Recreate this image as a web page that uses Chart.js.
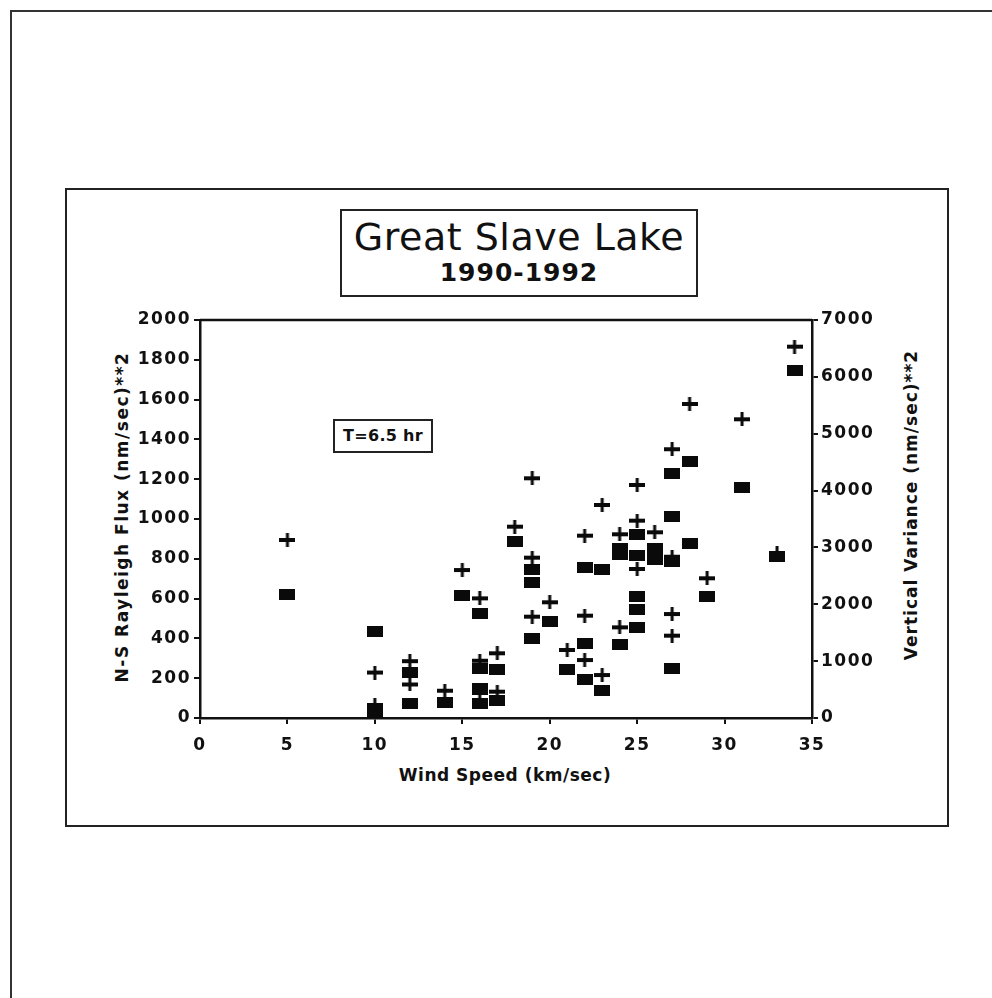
<!DOCTYPE html>
<html>
<head>
<meta charset="utf-8">
<script src="https://cdn.jsdelivr.net/npm/chart.js@4.4.1/dist/chart.umd.min.js"></script>
<style>
  html, body { margin: 0; padding: 0; background: #fff; }
  #page { position: relative; width: 992px; height: 998px; overflow: hidden; background: #fff; font-family: "DejaVu Sans", "Liberation Sans", sans-serif; color: #111; }
  #c { position: absolute; left: 0; top: 0; }
  .line { position: absolute; background: #333; }
  .box { position: absolute; box-sizing: border-box; border: 2px solid #222; }
  .txt { position: absolute; white-space: nowrap; }
  .rot { transform: translate(-50%, -50%) rotate(-90deg); }
</style>
</head>
<body>
<div id="page">
  <div class="line" style="left:10px; top:10px; width:982px; height:2px;"></div>
  <div class="line" style="left:10px; top:10px; width:2px; height:988px;"></div>
  <div class="box" style="left:65px; top:188px; width:884px; height:639px;"></div>
  <div class="box" style="left:340px; top:209px; width:358px; height:88px;"></div>
  <div class="txt" style="left:340px; width:358px; top:216px; line-height:42px; text-align:center; font-size:38px; letter-spacing:0.5px;">Great Slave Lake</div>
  <div class="txt" style="left:340px; width:358px; top:259px; line-height:28px; text-align:center; font-size:25px; font-weight:bold; letter-spacing:1px;">1990-1992</div>
  <div class="box" style="left:333px; top:419px; width:100px; height:34px;"></div>
  <div class="txt" style="left:333px; width:100px; top:425px; line-height:22px; text-align:center; font-size:16px; font-weight:bold; letter-spacing:0.3px;">T=6.5 hr</div>
  <div class="txt" style="left:505px; top:775px; transform:translate(-50%,-50%); font-size:17px; font-weight:bold; letter-spacing:0.5px;">Wind Speed (km/sec)</div>
  <div class="txt rot" style="left:122px; top:517px; font-size:17px; font-weight:bold; letter-spacing:1.5px;">N-S Rayleigh Flux (nm/sec)**2</div>
  <div class="txt rot" style="left:911px; top:505px; font-size:17px; font-weight:bold; letter-spacing:1px;">Vertical Variance (nm/sec)**2</div>
  <canvas id="c" width="992" height="998"></canvas>
</div>
<script>
// ---- data ----
// filled rectangles: N-S Rayleigh Flux (left axis)
const fluxWind = [5, 10, 10, 10, 12, 12, 14, 15, 16, 16, 16, 16, 17, 17, 18, 19, 19, 19, 20, 21, 22, 22, 22, 23, 23, 24, 24, 24, 25, 25, 25, 25, 25, 26, 26, 27, 27, 27, 27, 28, 28, 29, 31, 33, 34];
const fluxValues = [623, 434, 35, 10, 230, 74, 80, 618, 526, 250, 150, 74, 246, 90, 886, 744, 680, 400, 484, 246, 757, 375, 194, 744, 136, 850, 820, 367, 923, 819, 613, 543, 454, 854, 794, 1230, 1015, 785, 250, 1288, 878, 613, 1157, 814, 1745];
// crosses: Vertical Variance (right axis)
const varWind = [5, 10, 10, 12, 12, 14, 15, 16, 16, 16, 17, 17, 18, 19, 19, 19, 20, 21, 22, 22, 22, 23, 23, 24, 24, 25, 25, 25, 26, 27, 27, 27, 27, 28, 29, 31, 33, 34];
const varValues = [3131, 800, 229, 1000, 590, 480, 2603, 2105, 1008, 440, 1138, 463, 3365, 4216, 2820, 1782, 2035, 1196, 3207, 1800, 1020, 3747, 756, 3231, 1595, 4098, 3471, 2621, 3266, 4727, 2837, 1829, 1448, 5523, 2457, 5254, 2897, 6531];
// axis ranges / tick steps
const xRange = [0, 35], xStep = 5;
const fluxRange = [0, 2000], fluxStep = 200;
const varRange = [0, 7000], varStep = 1000;

function makeRect() {
  const c = document.createElement('canvas'); c.width = 16; c.height = 11;
  const g = c.getContext('2d'); g.fillStyle = '#0a0a0a'; g.fillRect(0, 0, 16, 11);
  return c;
}
function makeCross() {
  const c = document.createElement('canvas'); c.width = 16; c.height = 14;
  const g = c.getContext('2d'); g.fillStyle = '#0a0a0a';
  g.fillRect(0, 5, 16, 4); g.fillRect(6.5, 0, 3, 14);
  return c;
}

const tickFont = { family: "'DejaVu Sans', sans-serif", size: 17, weight: 'bold' };
const plainLabel = v => String(v);
const spacingPlugin = {
  id: 'spacing',
  beforeLayout(chart) { chart.ctx.letterSpacing = '1.5px'; },
  beforeDraw(chart) { chart.ctx.letterSpacing = '1.5px'; },
  afterDraw(chart) {
    const { ctx, chartArea } = chart;
    ctx.save();
    ctx.strokeStyle = '#111'; ctx.lineWidth = 2.5;
    ctx.beginPath(); ctx.moveTo(chartArea.left, chartArea.top); ctx.lineTo(chartArea.right, chartArea.top); ctx.stroke();
    ctx.restore();
  }
};

function axisGrid() {
  return { display: true, drawOnChartArea: false, drawTicks: true, tickLength: 6, color: '#111', lineWidth: 2 };
}

new Chart(document.getElementById('c'), {
  type: 'scatter',
  data: {
    datasets: [
      { label: 'Vertical Variance', data: varWind.map((x, i) => ({ x, y: varValues[i] })), yAxisID: 'yR',
        pointStyle: makeCross(), pointRadius: 6, showLine: false },
      { label: 'N-S Rayleigh Flux', data: fluxWind.map((x, i) => ({ x, y: fluxValues[i] })), yAxisID: 'yL',
        pointStyle: makeRect(), pointRadius: 6, showLine: false }
    ]
  },
  options: {
    responsive: false, animation: false, devicePixelRatio: 1,
    layout: { padding: { left: 130, right: 110, top: 320, bottom: 240 } },
    plugins: { legend: { display: false }, tooltip: { enabled: false }, title: { display: false } },
    scales: {
      x: { type: 'linear', min: xRange[0], max: xRange[1], position: 'bottom',
        ticks: { stepSize: xStep, font: tickFont, color: '#111', padding: 11, maxRotation: 0, callback: plainLabel },
        grid: axisGrid(), border: { display: true, color: '#111', width: 2.5 },
        afterFit(s) { s.height = 40; } },
      yL: { type: 'linear', min: fluxRange[0], max: fluxRange[1], position: 'left',
        ticks: { stepSize: fluxStep, font: tickFont, color: '#111', padding: 3, callback: plainLabel },
        grid: axisGrid(), border: { display: true, color: '#111', width: 2.5 },
        afterFit(s) { s.width = 70; } },
      yR: { type: 'linear', min: varRange[0], max: varRange[1], position: 'right',
        ticks: { stepSize: varStep, font: tickFont, color: '#111', padding: 3, callback: plainLabel },
        grid: axisGrid(), border: { display: true, color: '#111', width: 2.5 },
        afterFit(s) { s.width = 70; } }
    }
  },
  plugins: [spacingPlugin]
});
</script>
</body>
</html>
